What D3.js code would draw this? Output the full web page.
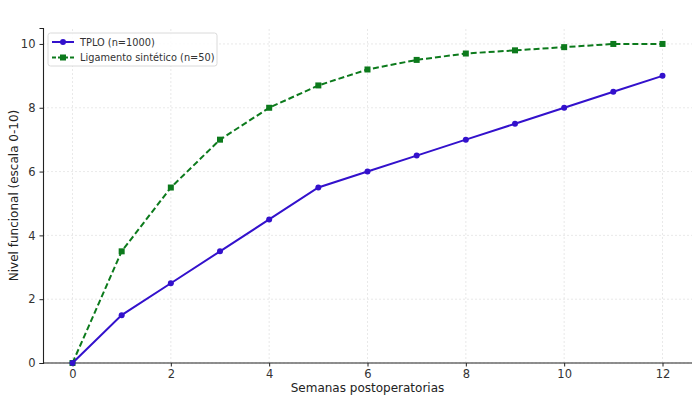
<!DOCTYPE html>
<html>
<head>
<meta charset="utf-8">
<script src="https://cdn.jsdelivr.net/npm/d3@7"></script>
<style>
  body { margin: 0; background: #fff; }
  svg { font-family: "DejaVu Sans", sans-serif; }
</style>
</head>
<body>
<div id="chart"></div>
<script>
// weeks after surgery
var semanas = [0, 1, 2, 3, 4, 5, 6, 7, 8, 9, 10, 11, 12];
var tplo = [0, 1.5, 2.5, 3.5, 4.5, 5.5, 6, 6.5, 7, 7.5, 8, 8.5, 9];
var ligamento = [0, 3.5, 5.5, 7, 8, 8.7, 9.2, 9.5, 9.7, 9.8, 9.9, 10, 10];
var xTicks = [0, 2, 4, 6, 8, 10, 12];
var yTicks = [0, 2, 4, 6, 8, 10];

var width = 700, height = 396;
var margin = {top: 28, right: 8, bottom: 33, left: 43};

var svg = d3.select('#chart').append('svg')
    .attr('width', width)
    .attr('height', height);

var x = d3.scaleLinear().domain([-0.6, 12.6]).range([margin.left, width - margin.right]);
var y = d3.scaleLinear().domain([0, 10.5]).range([height - margin.bottom, margin.top]);

// grid
var grid = svg.append('g').attr('class', 'grid');
xTicks.forEach(function(t) {
    grid.append('line')
        .attr('x1', x(t)).attr('x2', x(t))
        .attr('y1', y(0)).attr('y2', margin.top)
        .attr('stroke', '#e0e0e0').attr('stroke-width', 0.7)
        .attr('stroke-dasharray', '2,2');
});
yTicks.forEach(function(t) {
    grid.append('line')
        .attr('x1', margin.left).attr('x2', width - margin.right)
        .attr('y1', y(t)).attr('y2', y(t))
        .attr('stroke', '#e0e0e0').attr('stroke-width', 0.7)
        .attr('stroke-dasharray', '2,2');
});

// axes
var xAxis = svg.append('g')
    .attr('transform', 'translate(0,' + y(0) + ')')
    .call(d3.axisBottom(x).tickValues(xTicks).tickSize(3.5).tickPadding(3));
var yAxis = svg.append('g')
    .attr('transform', 'translate(' + margin.left + ',0)')
    .call(d3.axisLeft(y).tickValues(yTicks).tickSize(3.5).tickPadding(4));
[xAxis, yAxis].forEach(function(a) {
    a.select('.domain').attr('stroke', '#222').attr('stroke-width', 1.1);
    a.selectAll('.tick line').attr('stroke', '#222');
    a.selectAll('.tick text').attr('fill', '#333').style('font-size', '11.5px')
        .style('font-family', '"DejaVu Sans", sans-serif');
});
// extend the x axis line to the left edge
xAxis.select('.domain').attr('d', 'M' + margin.left + ',0H' + (width - margin.right));

svg.append('text')
    .attr('x', x(6)).attr('y', height - 4)
    .attr('text-anchor', 'middle')
    .attr('fill', '#222')
    .style('font-size', '12px')
    .text('Semanas postoperatorias');

svg.append('text')
    .attr('transform', 'translate(18,' + ((margin.top + y(0)) / 2) + ') rotate(-90)')
    .attr('text-anchor', 'middle')
    .attr('fill', '#222')
    .style('font-size', '12px')
    .text('Nivel funcional (escala 0-10)');

var line = d3.line()
    .x(function(d, i) { return x(semanas[i]); })
    .y(function(d) { return y(d); });

var blue = '#3311cc', green = '#0c7a1c';

svg.append('path').datum(ligamento)
    .attr('d', line)
    .attr('fill', 'none')
    .attr('stroke', green)
    .attr('stroke-width', 2)
    .attr('stroke-dasharray', '6,3');
svg.append('g').selectAll('rect').data(ligamento).enter().append('rect')
    .attr('x', function(d, i) { return x(semanas[i]) - 3; })
    .attr('y', function(d) { return y(d) - 3; })
    .attr('width', 6).attr('height', 6)
    .attr('fill', green);

svg.append('path').datum(tplo)
    .attr('d', line)
    .attr('fill', 'none')
    .attr('stroke', blue)
    .attr('stroke-width', 2);
svg.append('g').selectAll('circle').data(tplo).enter().append('circle')
    .attr('cx', function(d, i) { return x(semanas[i]); })
    .attr('cy', function(d) { return y(d); })
    .attr('r', 3)
    .attr('fill', blue);

// legend
var lg = svg.append('g').attr('transform', 'translate(48,33)');
lg.append('rect')
    .attr('width', 169).attr('height', 33).attr('rx', 2.5)
    .attr('fill', '#fff').attr('fill-opacity', 0.85)
    .attr('stroke', '#d0d0d0').attr('stroke-width', 0.8);
var items = [
    {label: 'TPLO (n=1000)', color: blue, dash: null, shape: 'circle'},
    {label: 'Ligamento sintético (n=50)', color: green, dash: '4,2', shape: 'square'}
];
items.forEach(function(it, i) {
    var cy = 9 + i * 15.5;
    lg.append('line')
        .attr('x1', 4).attr('x2', 26).attr('y1', cy).attr('y2', cy)
        .attr('stroke', it.color).attr('stroke-width', 2)
        .attr('stroke-dasharray', it.dash);
    if (it.shape === 'circle') {
        lg.append('circle').attr('cx', 15).attr('cy', cy).attr('r', 3).attr('fill', it.color);
    } else {
        lg.append('rect').attr('x', 12).attr('y', cy - 3).attr('width', 6).attr('height', 6).attr('fill', it.color);
    }
    lg.append('text')
        .attr('x', 32).attr('y', cy + 3.5)
        .attr('fill', '#333')
        .style('font-size', '9.8px')
        .text(it.label);
});
</script>
</body>
</html>
